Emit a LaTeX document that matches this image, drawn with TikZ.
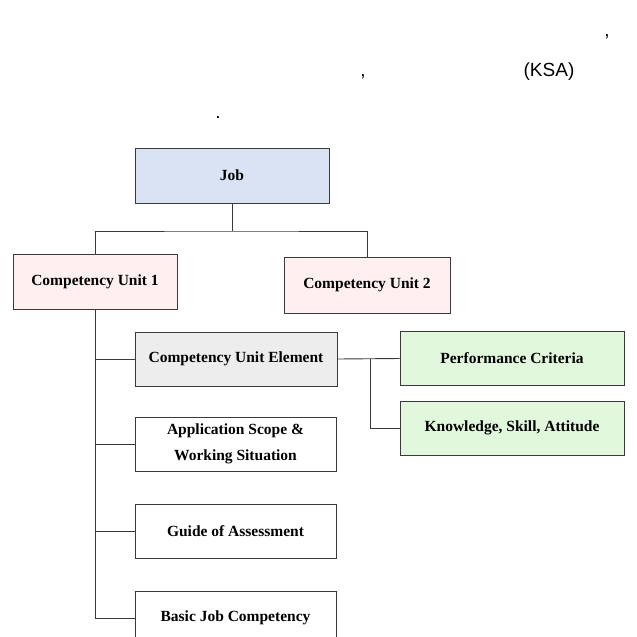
\documentclass[tikz,border=0pt]{standalone}
\usepackage{fontspec}
\setmainfont{Liberation Serif}
\newfontfamily\notefont{Liberation Sans}
\usetikzlibrary{positioning}
\definecolor{jobblue}{HTML}{DAE3F3}
\definecolor{unitpink}{HTML}{FDF0EF}
\definecolor{elemgray}{HTML}{EDEDED}
\definecolor{critgreen}{HTML}{E2F8DC}
\definecolor{ink}{HTML}{3A3A3A}

\begin{document}
\begin{tikzpicture}[
  x=1pt, y=-1pt,
  box/.style={draw=ink, line width=0.9pt, minimum height=54pt, inner sep=0pt, align=center, font=\fontsize{15.5}{26}\selectfont\bfseries},
  link/.style={ink, line width=0.9pt},
  note/.style={anchor=base, inner sep=0pt, font=\notefont\fontsize{19}{22}\selectfont}
]
  \useasboundingbox (0,0) rectangle (637,637);
  \clip (0,0) rectangle (637,637);

  \node[note] (n1) at (607,36) {,};
  \node[note] (n2) at (363,76) {,};
  \node[note] (n3) at (549,76) {(KSA)};
  \node[note] (n4) at (218,118) {.};

  \node[box, fill=jobblue, minimum width=194pt, minimum height=55pt] (job) at (232,175.5) {Job};
  \node[box, fill=unitpink, minimum width=164pt, minimum height=55pt] (cu1) at (95,281.5) {Competency Unit 1};
  \node[box, fill=unitpink, minimum width=166pt, minimum height=56pt] (cu2) at (367,285) {Competency Unit 2};
  \node[box, fill=elemgray, minimum width=202pt] (cue) at (236,359) {Competency Unit Element};
  \node[box, fill=critgreen, minimum width=224pt] (pc) at (512,358.5) {Performance Criteria};
  \node[box, fill=critgreen, minimum width=224pt] (ksa) at (512,428) {Knowledge, Skill, Attitude};
  \node[box, fill=white, minimum width=201pt] (scope) at (235.5,444) {Application Scope \&\\Working Situation};
  \node[box, fill=white, minimum width=201pt] (guide) at (235.5,531) {Guide of Assessment};
  \node[box, fill=white, minimum width=201pt] (basic) at (235.5,618) {Basic Job Competency};

  \coordinate (split) at (232,231);
  \coordinate (fork) at (370,359);

  \draw[link] (job) -- (split);
  \draw[link] (cu1.north) |- (split) -| (cu2.north);
  \draw[link] (cu1.south) |- (basic.west);
  \draw[link] (cu1.south |- cue.west) -- (cue.west);
  \draw[link] (cu1.south |- scope.west) -- (scope.west);
  \draw[link] (cu1.south |- guide.west) -- (guide.west);
  \draw[link] (cue.east) -- (pc.west);
  \draw[link] (fork) |- (ksa.west);
\end{tikzpicture}
\end{document}
